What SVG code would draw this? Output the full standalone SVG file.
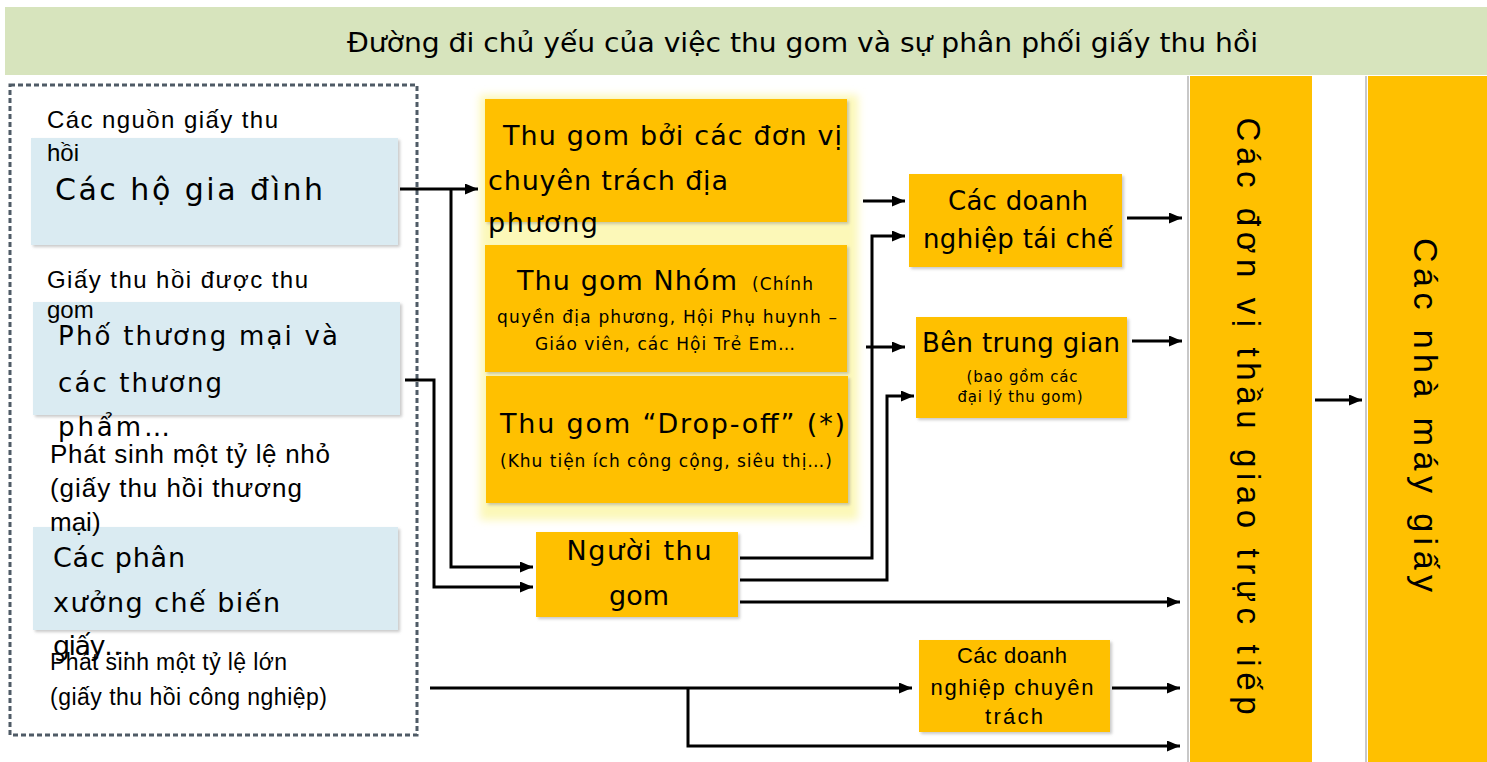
<svg xmlns="http://www.w3.org/2000/svg" width="1487" height="762" viewBox="0 0 1487 762">
<style>
.lab{font-family:"Liberation Sans",Arial,sans-serif;fill:#000}
.tah{font-family:"DejaVu Sans",Verdana,sans-serif;fill:#000}
.ttl{font-family:"DejaVu Sans Condensed","DejaVu Sans",sans-serif;font-stretch:condensed;fill:#000}
.blue{fill:#daebf2}
.org{fill:#ffc000}
.con{fill:none;stroke:#000;stroke-width:3}
.arr{marker-end:url(#ah)}
.mid{text-anchor:middle}
</style>
<defs>
<marker id="ah" markerUnits="userSpaceOnUse" markerWidth="13" markerHeight="11" refX="13" refY="5.5" orient="auto">
<path d="M0,0 L13,5.5 L0,11 z" fill="#000"/>
</marker>
<filter id="glow" x="-10%" y="-10%" width="120%" height="120%"><feGaussianBlur stdDeviation="4"/></filter>
<filter id="sh" x="-5%" y="-5%" width="115%" height="115%"><feDropShadow dx="2" dy="2" stdDeviation="1.5" flood-color="#888" flood-opacity="0.45"/></filter>
</defs>
<rect width="1487" height="762" fill="#fff"/>
<g id="title">
<rect x="5" y="7" width="1482" height="68" fill="#d7e4bd"/>
<text class="ttl" x="347" y="52" font-size="26" textLength="911" lengthAdjust="spacingAndGlyphs">Đường đi chủ yếu của việc thu gom và sự phân phối giấy thu hồi</text>
</g>
<g id="sources-frame">
<rect x="10" y="85" width="407" height="650" fill="none" stroke="#4f5b66" stroke-width="3" stroke-dasharray="5 3"/>
</g>
<g id="households">
<rect class="blue" x="31" y="138" width="367" height="107" filter="url(#sh)"/>
<text class="tah" x="55" y="200" font-size="30" textLength="268">Các hộ gia đình</text>
</g>
<g id="commercial">
<rect class="blue" x="33" y="302" width="367" height="113" filter="url(#sh)"/>
<text class="tah" x="58" y="345" font-size="26" textLength="280">Phố thương mại và</text>
<text class="tah" x="58" y="392" font-size="26" textLength="164">các thương</text>
<text class="tah" x="58" y="436" font-size="26" textLength="112">phẩm…</text>
</g>
<g id="industrial">
<rect class="blue" x="33" y="527" width="365" height="103" filter="url(#sh)"/>
<text class="tah" x="53" y="567" font-size="27" textLength="132">Các phân</text>
<text class="tah" x="53" y="612" font-size="27" textLength="227">xưởng chế biến</text>
<text class="tah" x="53" y="655" font-size="27" textLength="78">giấy…</text>
</g>
<g id="source-labels">
<text class="lab" x="47" y="128" font-size="24" textLength="231">Các nguồn giấy thu</text>
<text class="lab" x="47" y="161" font-size="24">hồi</text>
<text class="lab" x="47" y="288" font-size="24" textLength="261">Giấy thu hồi được thu</text>
<text class="lab" x="47" y="318" font-size="24">gom</text>
<text class="lab" x="50" y="463" font-size="26" textLength="280">Phát sinh một tỷ lệ nhỏ</text>
<text class="lab" x="50" y="497" font-size="26" textLength="252">(giấy thu hồi thương</text>
<text class="lab" x="50" y="531" font-size="26">mại)</text>
<text class="lab" x="50" y="670" font-size="23" textLength="237">Phát sinh một tỷ lệ lớn</text>
<text class="lab" x="50" y="705" font-size="23" textLength="277">(giấy thu hồi công nghiệp)</text>
</g>
<rect x="480" y="95" width="378" height="425" fill="#fcf8b8" filter="url(#glow)"/>
<g id="local-units">
<rect class="org" x="485" y="99" width="362" height="123" filter="url(#sh)"/>
<text class="tah" x="503" y="145" font-size="27" textLength="339">Thu gom bởi các đơn vị</text>
<text class="tah" x="488" y="190" font-size="27" textLength="240">chuyên trách địa</text>
<text class="tah" x="488" y="232" font-size="27" textLength="110">phương</text>
</g>
<g id="group-collection">
<rect class="org" x="485" y="245" width="362" height="127" filter="url(#sh)"/>
<text class="tah" x="517" y="290" font-size="27" textLength="220">Thu gom Nhóm</text>
<text class="tah" x="752" y="290" font-size="17" textLength="61">(Chính</text>
<text class="tah mid" x="667" y="323" font-size="17" textLength="340">quyền địa phương, Hội Phụ huynh –</text>
<text class="tah mid" x="665" y="350" font-size="17" textLength="260">Giáo viên, các Hội Trẻ Em…</text>
</g>
<g id="drop-off">
<rect class="org" x="486" y="376" width="362" height="127" filter="url(#sh)"/>
<text class="tah" x="500" y="433" font-size="27" textLength="345">Thu gom “Drop-off” (*)</text>
<text class="tah" x="500" y="467" font-size="17" textLength="332">(Khu tiện ích công cộng, siêu thị…)</text>
</g>
<g id="collector">
<rect class="org" x="536" y="532" width="202" height="85" filter="url(#sh)"/>
<text class="tah mid" x="639" y="560" font-size="27" textLength="145">Người thu</text>
<text class="tah mid" x="639" y="605" font-size="27">gom</text>
</g>
<g id="recyclers">
<rect class="org" x="909" y="174" width="213" height="93" filter="url(#sh)"/>
<text class="tah mid" x="1018" y="210" font-size="26" textLength="140">Các doanh</text>
<text class="tah mid" x="1018" y="248" font-size="26" textLength="190">nghiệp tái chế</text>
</g>
<g id="intermediary">
<rect class="org" x="916" y="317" width="211" height="101" filter="url(#sh)"/>
<text class="tah mid" x="1021" y="352" font-size="26" textLength="198">Bên trung gian</text>
<text class="tah mid" x="1022" y="382" font-size="15" textLength="111">(bao gồm các</text>
<text class="tah mid" x="1020" y="402" font-size="15" textLength="125">đại lý thu gom)</text>
</g>
<g id="specialized">
<rect class="org" x="919" y="640" width="191" height="92" filter="url(#sh)"/>
<text class="lab mid" x="1012" y="663" font-size="22" textLength="110">Các doanh</text>
<text class="lab mid" x="1012" y="695" font-size="22" textLength="163">nghiệp chuyên</text>
<text class="lab mid" x="1014" y="724" font-size="22" textLength="58">trách</text>
</g>
<g id="direct-contractors">
<line x1="1188" y1="76" x2="1188" y2="762" stroke="#c8c8c8" stroke-width="2"/>
<rect class="org" x="1190" y="76" width="122" height="686"/>
<text class="lab mid" transform="translate(1237,416) rotate(90)" font-size="33" textLength="597">Các đơn vị thầu giao trực tiếp</text>
</g>
<g id="paper-mills">
<line x1="1366" y1="76" x2="1366" y2="762" stroke="#c8c8c8" stroke-width="2"/>
<rect class="org" x="1368" y="76" width="119" height="686"/>
<text class="lab mid" transform="translate(1414,415) rotate(90)" font-size="34" textLength="354">Các nhà máy giấy</text>
</g>
<g id="connectors">
<path class="con arr" d="M400,189 H478"/>
<path class="con arr" d="M451,189 V567 H533"/>
<path class="con arr" d="M405,380 H434 V587 H533"/>
<path class="con arr" d="M863,201 H905"/>
<path class="con arr" d="M740,558 H872 V236 H905"/>
<path class="con arr" d="M866,347 H905"/>
<path class="con arr" d="M740,580 H887 V396 H914"/>
<path class="con arr" d="M740,602 H1180"/>
<path class="con arr" d="M1127,218 H1182"/>
<path class="con arr" d="M1132,341 H1182"/>
<path class="con arr" d="M430,688 H912"/>
<path class="con arr" d="M688,688 V746 H1180"/>
<path class="con arr" d="M1112,688 H1180"/>
<path class="con arr" d="M1315,400 H1362"/>
</g>
</svg>
